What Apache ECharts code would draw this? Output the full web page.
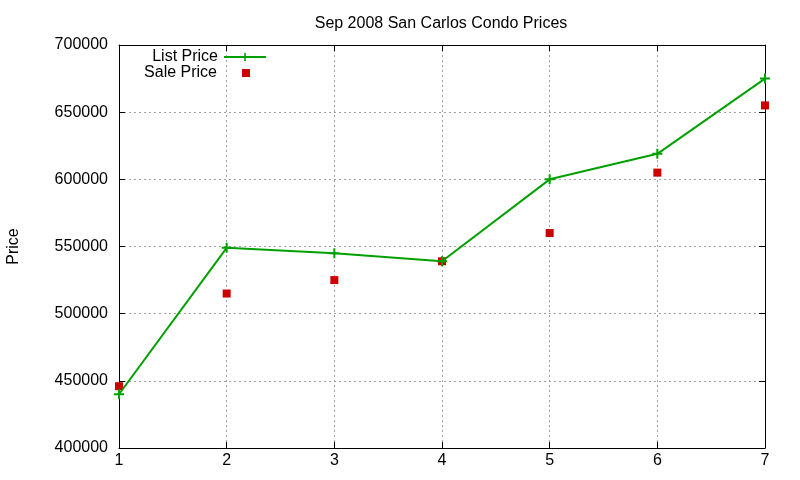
<!DOCTYPE html>
<html>
<head>
<meta charset="utf-8">
<script src="https://cdn.jsdelivr.net/npm/echarts@6/dist/echarts.min.js"></script>
<style>
  html, body { margin: 0; padding: 0; background: #fff; }
  #chart { width: 800px; height: 480px; }
</style>
</head>
<body>
<div id="chart"></div>
<script>
// data
const weeks = [1, 2, 3, 4, 5, 6, 7];
const listPrice = [440000, 549000, 545000, 539000, 600000, 619000, 675000];
const salePrice = [446000, 515000, 525000, 539000, 560000, 605000, 655000];

const font = 'Liberation Sans, Arial, sans-serif';
const green = '#00a000';
const red = '#cc0000';
const plus = 'path://M4,0h2v4h4v2h-4v4h-2v-4h-4v-2h4z';

const chart = echarts.init(document.getElementById('chart'));

const axisCommon = {
    axisLine: { show: true, lineStyle: { color: '#000', width: 1 } },
    axisTick: { show: true, inside: true, length: 6, lineStyle: { color: '#000' } }
};

chart.setOption({
    animation: false,
    backgroundColor: '#fff',
    title: {
        text: 'Sep 2008 San Carlos Condo Prices',
        left: 436,
        textAlign: 'center',
        top: 11,
        textStyle: { fontFamily: font, fontSize: 16, fontWeight: 'normal', color: '#000' }
    },
    legend: [
        {
            data: ['List Price'], orient: 'vertical', align: 'right', padding: 0,
            right: 533, top: 49, itemWidth: 42, itemHeight: 10,
            textStyle: { fontFamily: font, fontSize: 16, color: '#000', padding: [0, 1, 0, 0] }
        },
        {
            data: ['Sale Price'], orient: 'vertical', align: 'right', padding: 0,
            right: 550, top: 65, itemWidth: 8, itemHeight: 8,
            textStyle: { fontFamily: font, fontSize: 16, color: '#000', padding: [0, 20, 0, 0] }
        }
    ],
    grid: { left: 119, right: 35, top: 45, bottom: 32, containLabel: false, outerBoundsMode: 'none' },
    xAxis: [
        Object.assign({
            type: 'value', min: 1, max: 7, interval: 1,
            axisLabel: { fontFamily: font, fontSize: 16, color: '#000', margin: 5 },
            splitLine: { show: true, lineStyle: { color: '#a0a0a0', type: [2, 3] } }
        }, axisCommon),
        Object.assign({
            type: 'value', min: 1, max: 7, interval: 1, position: 'top',
            axisLabel: { show: false }, splitLine: { show: false }
        }, axisCommon)
    ],
    yAxis: [
        Object.assign({
            type: 'value', min: 400000, max: 700000, interval: 50000,
            name: 'Price', nameLocation: 'middle', nameGap: 97, nameRotate: 90,
            nameTextStyle: { fontFamily: font, fontSize: 16, color: '#000' },
            axisLabel: { fontFamily: font, fontSize: 16, color: '#000', margin: 11, formatter: v => String(v) },
            splitLine: { show: true, lineStyle: { color: '#a0a0a0', type: [2, 3] } }
        }, axisCommon),
        Object.assign({
            type: 'value', min: 400000, max: 700000, interval: 50000, position: 'right',
            axisLabel: { show: false }, splitLine: { show: false }
        }, axisCommon)
    ],
    series: [
        {
            name: 'List Price',
            type: 'line',
            data: weeks.map((w, i) => [w, listPrice[i]]),
            symbol: plus,
            symbolSize: 10,
            showSymbol: true,
            lineStyle: { color: green, width: 2 },
            itemStyle: { color: green },
            z: 3
        },
        {
            name: 'Sale Price',
            type: 'scatter',
            data: weeks.map((w, i) => [w, salePrice[i]]),
            symbol: 'rect',
            symbolSize: 8,
            itemStyle: { color: red, opacity: 1 },
            z: 2
        }
    ]
});
</script>
</body>
</html>
